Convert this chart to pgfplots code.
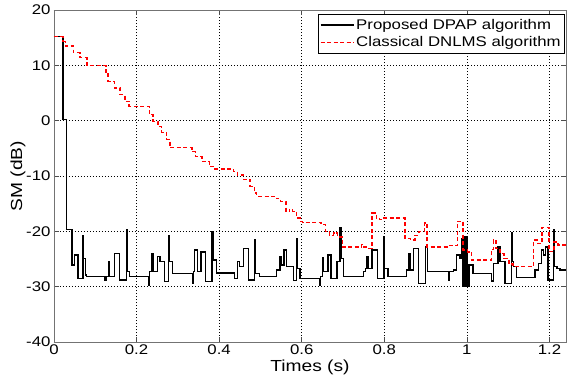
\documentclass[border=0pt]{standalone}
\usepackage{fontspec}
\setmainfont[FakeStretch=1.2]{Liberation Sans}
\usepackage{pgfplots}
\pgfplotsset{compat=1.18}
\usepackage{pgfplotstable}

\pgfplotstableread{
t v
0 15.2
0.022 0.2
0.030 -16.7
0.031 -19.7
0.044 -26.1
0.049 -24.3
0.058 -28.5
0.070 -20.7
0.072 -24.9
0.076 -27.9
0.079 -28.2
0.123 -28.8
0.126 -28.2
0.132 -25.5
0.135 -28.2
0.147 -24.0
0.159 -28.8
0.176 -19.7
0.178 -27.3
0.183 -28.2
0.229 -29.7
0.231 -27.3
0.236 -24.0
0.240 -27.3
0.251 -24.6
0.257 -25.5
0.267 -29.1
0.277 -20.8
0.280 -25.5
0.287 -27.6
0.335 -29.4
0.338 -27.3
0.341 -23.4
0.348 -27.3
0.356 -23.7
0.367 -29.1
0.383 -20.0
0.385 -25.2
0.393 -27.5
0.437 -28.5
0.445 -25.5
0.449 -26.4
0.459 -23.1
0.471 -28.8
0.485 -21.6
0.487 -27.6
0.498 -28.2
0.539 -27.0
0.547 -24.6
0.551 -26.1
0.557 -23.4
0.563 -26.4
0.580 -28.9
0.588 -21.3
0.590 -26.7
0.596 -28.5
0.644 -29.7
0.646 -28.2
0.650 -24.7
0.653 -27.3
0.664 -24.3
0.671 -28.5
0.685 -25.5
0.693 -19.4
0.695 -24.9
0.701 -28.2
0.749 -27.3
0.754 -26.7
0.758 -24.5
0.762 -26.7
0.770 -23.4
0.783 -28.5
0.799 -20.9
0.801 -26.7
0.809 -28.2
0.854 -27.0
0.858 -24.0
0.862 -27.0
0.870 -23.1
0.883 -29.4
0.900 -22.8
0.904 -27.3
0.955 -28.8
0.957 -27.3
0.967 -27.0
0.975 -24.3
0.983 -24.9
0.987 -21.3
0.991 -30.0
0.995 -20.9
1.000 -30.0
1.005 -26.1
1.015 -27.6
1.060 -29.0
1.064 -25.8
1.075 -22.8
1.080 -25.5
1.092 -29.4
1.108 -20.3
1.111 -25.5
1.113 -26.4
1.120 -28.3
1.165 -27.0
1.173 -25.8
1.181 -23.4
1.186 -24.3
1.190 -22.8
1.196 -28.8
1.209 -19.7
1.211 -26.4
1.218 -26.7
1.225 -27.0
1.24 -27.0
}\dpap

\pgfplotstableread{
t v
0 15.2
0.022 14.3
0.028 13.5
0.047 12.3
0.063 11.4
0.080 10.0
0.126 8.6
0.131 7.1
0.146 5.9
0.160 4.7
0.172 3.5
0.182 2.6
0.231 1.1
0.240 -0.1
0.252 -1.0
0.261 -2.1
0.273 -3.4
0.281 -4.9
0.334 -5.6
0.343 -6.5
0.358 -7.4
0.376 -8.3
0.390 -8.7
0.434 -9.2
0.444 -9.8
0.459 -10.6
0.475 -11.9
0.485 -13.1
0.491 -13.7
0.539 -14.1
0.549 -14.6
0.562 -16.4
0.570 -16.0
0.578 -16.4
0.588 -17.6
0.596 -18.2
0.602 -18.4
0.647 -18.8
0.657 -20.0
0.667 -20.7
0.677 -20.3
0.687 -21.0
0.699 -22.8
0.745 -22.4
0.751 -22.8
0.760 -23.1
0.770 -16.7
0.781 -17.6
0.789 -17.9
0.799 -17.6
0.850 -21.3
0.864 -21.6
0.874 -20.7
0.884 -20.0
0.897 -18.5
0.903 -22.8
0.955 -22.6
0.977 -18.2
0.991 -23.4
1.001 -23.7
1.011 -25.2
1.059 -23.3
1.064 -21.6
1.070 -23.1
1.080 -24.0
1.090 -24.9
1.102 -25.9
1.112 -26.4
1.161 -21.6
1.172 -22.2
1.182 -19.3
1.199 -23.6
1.211 -21.9
1.221 -22.5
1.24 -22.5
}\dnlms

\begin{document}
\begin{tikzpicture}
\path[use as bounding box] (-54pt,-39pt) rectangle (514pt,342pt);
\begin{axis}[
  at={(0,0)}, anchor=south west,
  scale only axis,
  width=512pt, height=332pt,
  xmin=0, xmax=1.24,
  ymin=-40, ymax=20,
  xtick={0,0.2,0.4,0.6,0.8,1,1.2},
  ytick={-40,-30,-20,-10,0,10,20},
  xticklabels={0,0.2,0.4,0.6,0.8,1,1.2},
  /pgf/number format/assume math mode=true,
  tick label style={font=\fontsize{14}{16}\selectfont},
  xticklabel style={yshift=1pt},
  label style={font=\fontsize{16}{18}\selectfont},
  xlabel={Times (s)},
  ylabel={SM (dB)},
  xlabel style={yshift=1pt},
  ylabel style={yshift=-6pt},
  tick align=inside,
  major tick length=5pt,
  tick style={black!70, line width=0.5pt},
  axis line style={black!55, line width=0.8pt},
  grid=major,
  major grid style={black, line width=0.5pt, dash pattern=on 1.2pt off 1.8pt},
  legend cell align=left,
  legend style={at={(rel axis cs:0.998,0.988)}, anchor=north east,
    font=\fontsize{14}{16}\selectfont, draw=black, line width=0.6pt,
    inner xsep=2pt, inner ysep=3pt, row sep=1.5pt},
  legend image code/.code={\draw[#1] (0pt,0pt) -- (33pt,0pt);},
]
\addplot[black, line width=1.4pt, const plot] table[x=t,y=v] {\dpap};
\addlegendentry{Proposed DPAP algorithm}
\addplot[red, line width=1.4pt, const plot, dash pattern=on 4pt off 2.5pt] table[x=t,y=v] {\dnlms};
\addlegendentry{Classical DNLMS algorithm}
\end{axis}
\end{tikzpicture}
\end{document}
